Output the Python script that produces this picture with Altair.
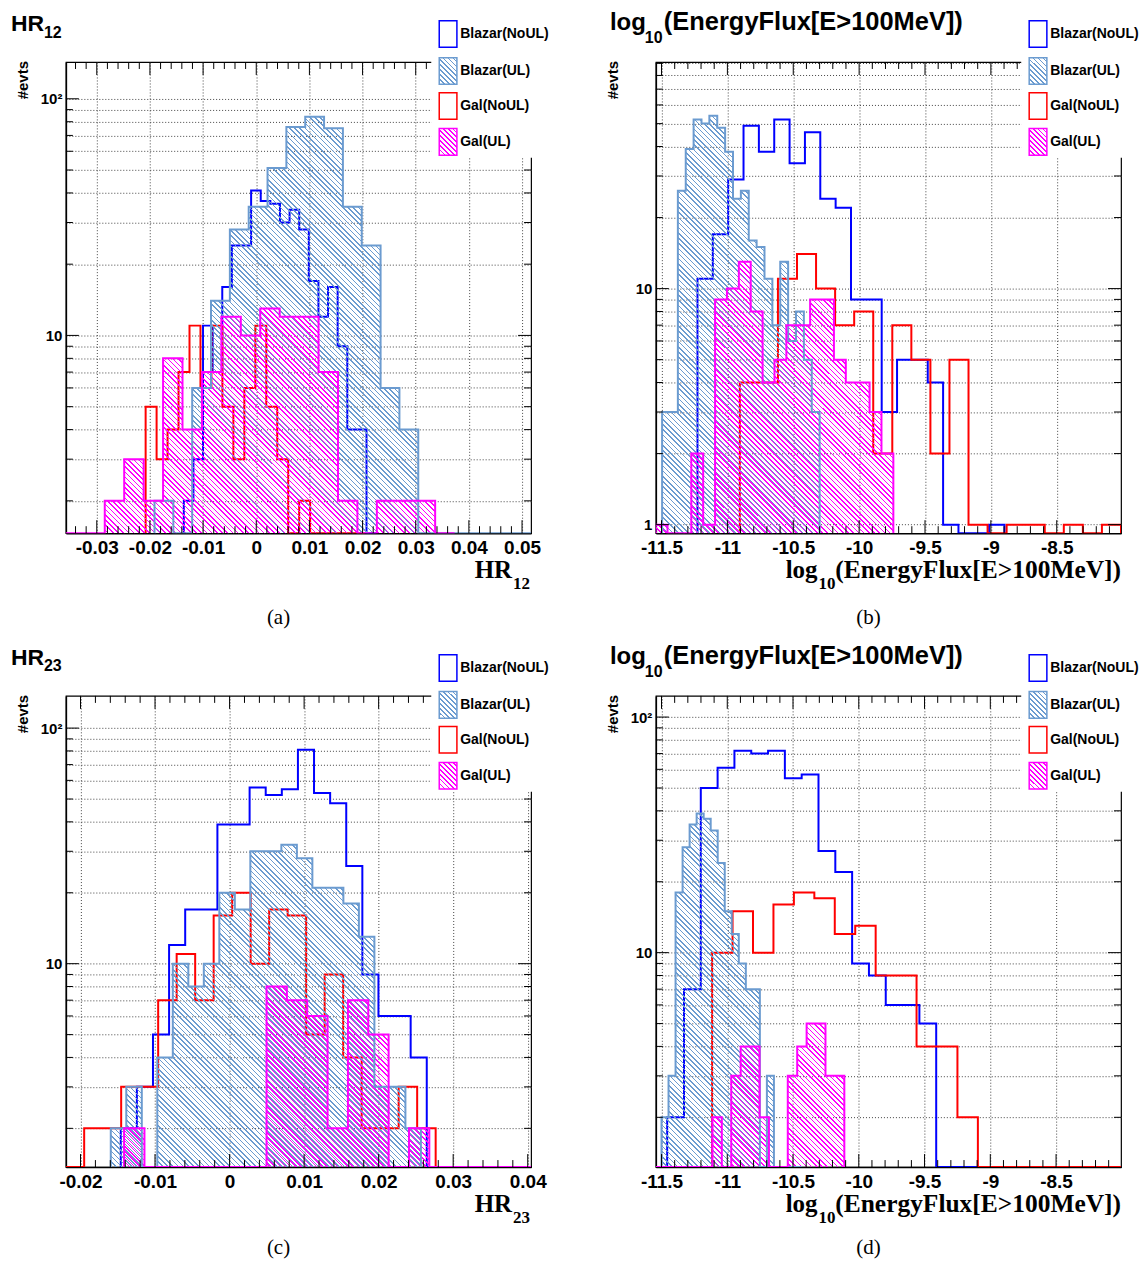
import math
import numpy as np
import pandas as pd
import altair as alt

PW, PH = 466, 472
NAMES = ["Blazar(NoUL)", "Blazar(UL)", "Gal(NoUL)", "Gal(UL)"]
COLORS = ["#0000ff", "#6b9bd0", "#ff0000", "#ff00ff"]
SANS = "Liberation Sans"
SERIF = "Liberation Serif"

# ---------------- panel (a): HR12 ----------------
A_XDOM = [-0.03581, 0.05170]
A_YDOM = [1.46, 143.0]
A_LO = [-0.01363, -0.01914, -0.02081, -0.03581]
A_WIDTH = [0.001809, 0.003544, 0.002063, 0.003656]
A_BLAZAR_NOUL = [2, 3, 11, 7, 16, 24, 24, 41, 37, 36, 30, 34, 28, 17, 12, 16, 9, 4, 4, 1]
A_BLAZAR_UL = [2, 0, 6, 14, 28, 35, 51, 76, 84, 75, 35, 24, 6, 4, 0, 0, 0, 0, 0, 1]
A_GAL_NOUL = [5, 3, 4, 7, 11, 6, 11, 5, 3, 6, 11, 5, 3, 0, 2, 0, 0, 0, 0, 1]
A_GAL_UL = [1, 0, 2, 3, 2, 8, 4, 7, 12, 10, 13, 12, 12, 7, 2, 0, 2, 2, 2, 1]
A_XTICKS = [-0.03, -0.02, -0.01, 0.0, 0.01, 0.02, 0.03, 0.04, 0.05]

# ---------------- panel (b): log10 energy flux ----------------
B_XDOM = [-11.543, -8.012]
B_YDOM = [0.92, 91.2]
B_LO = [-11.2271, -11.4955, -10.9056, -11.5447]
B_WIDTH = [0.11653, 0.05978, 0.14466, 0.09022]
B_BLAZAR_NOUL = [11, 17, 29, 49, 38, 52, 34, 46, 24, 22, 9, 9, 3, 5, 5, 4, 1, 0, 0, 1]
B_BLAZAR_UL = [3, 3, 26, 39, 52, 50, 54, 48, 38, 24, 26, 16, 15, 11, 7, 13, 6, 8, 5, 3]
B_GAL_NOUL = [4, 4, 11, 14, 10, 7, 8, 2, 7, 5, 2, 5, 1, 0, 1, 1, 0, 1, 0, 1]
B_GAL_UL = [1, 0, 0, 2, 1, 9, 10, 13, 8, 4, 5, 7, 7, 9, 9, 5, 4, 4, 3, 2]
B_XTICKS = [-11.5, -11.0, -10.5, -10.0, -9.5, -9.0, -8.5]

# ---------------- panel (c): HR23 ----------------
C_XDOM = [-0.02196, 0.04045]
C_YDOM = [1.37, 137.0]
C_LO = [-0.014598, -0.015938, -0.021991, -0.014152]
C_WIDTH = [0.0021607, 0.0020804, 0.002482, 0.00273]
C_BLAZAR_NOUL = [2, 3, 5, 12, 17, 17, 39, 39, 56, 52, 55, 81, 53, 48, 26, 9, 6, 6, 4, 1]
C_BLAZAR_UL = [2, 3, 0, 4, 10, 8, 10, 20, 17, 30, 30, 32, 28, 21, 21, 18, 13, 3, 3, 2]
C_GAL_NOUL = [1, 2, 2, 3, 3, 7, 11, 7, 16, 20, 10, 17, 16, 5, 9, 4, 2, 2, 3, 2]
C_GAL_UL = [2, 0, 0, 0, 0, 0, 0, 8, 7, 6, 2, 7, 5, 0, 2, 0, 0, 0, 0, 1]
C_XTICKS = [-0.02, -0.01, 0.0, 0.01, 0.02, 0.03, 0.04]

# ---------------- panel (d): log10 energy flux ----------------
D_XDOM = [-11.543, -8.006]
D_YDOM = [1.23, 123.0]
D_LO = [-11.4570, -11.5, -11.1152, -11.5430]
D_WIDTH = [0.12785, 0.05342, 0.15544, 0.07165]
D_BLAZAR_NOUL = [2, 7, 50, 61, 72, 70, 72, 55, 57, 27, 22, 9, 8, 6, 6, 5, 0, 0, 0, 1]
D_BLAZAR_UL = [2, 3, 18, 28, 35, 39, 37, 33, 24, 15, 12, 9, 7, 7, 0, 3, 0, 0, 0, 1]
D_GAL_NOUL = [10, 15, 10, 16, 18, 17, 12, 13, 8, 8, 4, 4, 2, 0, 0, 0, 0, 0, 0, 1]
D_GAL_UL = [1, 0, 0, 0, 0, 0, 2, 0, 3, 4, 4, 2, 0, 0, 3, 4, 5, 5, 3, 3]

LOG_TICKS = [1, 2, 3, 4, 5, 6, 7, 8, 9, 10, 20, 30, 40, 50, 60, 70, 80, 90, 100]

ONE = pd.DataFrame({"o": [0]})


def hatch(color, wpx, hpx, spacing=5.2, lw=1.1):
    wpx = max(wpx, 1.0)
    hpx = max(hpx, 1.0)
    k = (wpx + hpx) / (wpx ** 2 + hpx ** 2)
    n = max(2, int(round((wpx + hpx) / spacing)))
    frac = min(0.9, lw * math.sqrt(2) / spacing)
    clear = "rgba(255,255,255,0)"
    stops = []
    for i in range(n):
        a, b, c = i / n, (i + frac) / n, (i + 1) / n
        stops += [
            {"offset": round(a, 6), "color": color},
            {"offset": round(b, 6), "color": color},
            {"offset": round(b, 6), "color": clear},
            {"offset": round(c, 6), "color": clear},
        ]
    return {"gradient": "linear", "x1": 0, "y1": 1,
            "x2": round(k * wpx, 6), "y2": round(1 - k * hpx, 6), "stops": stops}


def txt(s, x, y, size, font=SANS, weight="bold", align="left", baseline="top", angle=None):
    """Text mark; for baseline 'top', y is the baseline position (converted to top)."""
    if baseline == "top":
        y = y - round(0.79 * size)
    kw = dict(text=s, font=font, fontSize=size, fontWeight=weight, align=align,
              baseline=baseline, color="black")
    if angle is not None:
        kw["angle"] = angle
    return alt.Chart(ONE).mark_text(**kw).encode(x=alt.value(x), y=alt.value(y))


def panel(xdom, ydom, lows, widths, counts, xticks, xminor, title, xtitle, caption, cap_y, anchor=False):
    xs = alt.Scale(domain=xdom, nice=False, zero=False)
    ys = alt.Scale(type="log", domain=ydom, nice=False, clamp=True)
    yall = [v for v in LOG_TICKS if ydom[0] < v < ydom[1]]
    ymaj = [v for v in yall if v in (1, 10, 100)]
    ymin = [v for v in yall if v not in (1, 10, 100)]
    xaxis = alt.Axis(values=xticks, grid=True, gridColor="#444", gridDash=[1, 2], gridWidth=1,
                     ticks=False, domain=True, domainColor="black", domainWidth=1.5,
                     labelFont=SANS, labelFontWeight="bold", labelFontSize=19, labelColor="black",
                     labelPadding=5, labelFlush=False, labelOverlap=False,
                     labelExpr="replace(format(datum.value, ''), '\u2212', '-')", title=None)
    yaxis = alt.Axis(values=yall, grid=True, gridColor="#444", gridDash=[1, 2], gridWidth=1,
                     ticks=False, domain=True, domainColor="black", domainWidth=1.5,
                     labelFont=SANS, labelFontWeight="bold", labelFontSize=15, labelColor="black",
                     labelPadding=4, labelOverlap=False,
                     labelExpr="datum.value == 100 ? '10\u00b2' : datum.value == 10 ? '10' : datum.value == 1 ? '1' : ''",
                     title=None)

    def X(f):
        return alt.X(f, type="quantitative", scale=xs, axis=xaxis)

    def Y(f):
        return alt.Y(f, type="quantitative", scale=ys, axis=yaxis)

    span = xdom[1] - xdom[0]
    lspan = math.log10(ydom[1]) - math.log10(ydom[0])

    def outline(i):
        lo, w, c = lows[i], widths[i], counts[i]
        n = len(c)
        hi = lo + n * w
        xsv = [lo] + [lo + j * w for j in range(n)] + [hi, hi]
        cs = [0] + list(c) + [c[-1], 0]
        df = pd.DataFrame({"x": xsv, "count": cs, "k": list(range(len(xsv)))})
        return (alt.Chart(df).transform_calculate(yv="max(datum.count, 0.01)")
                .mark_line(color=COLORS[i], strokeWidth=2, interpolate="step-after", clip=True)
                .encode(x=X("x"), y=Y("yv"), order=alt.Order("k:Q")))

    def area(i):
        lo, w, c = lows[i], widths[i], counts[i]
        n = len(c)
        hi = lo + n * w
        xsv = [lo + j * w for j in range(n)] + [hi]
        cs = list(c) + [c[-1]]
        df = pd.DataFrame({"x": xsv, "count": cs})
        x0, x1 = max(lo, xdom[0]), min(hi, xdom[1])
        wpx = (x1 - x0) / span * PW
        hpx = PH * (math.log10(max(c)) - math.log10(ydom[0])) / lspan
        grad = hatch(COLORS[i], wpx, hpx)
        return (alt.Chart(df).transform_calculate(yv="max(datum.count, 0.01)")
                .mark_area(fill=grad, opacity=1, interpolate="step-after", clip=True)
                .encode(x=X("x"), y=Y("yv")))

    layers = [outline(0), outline(2), area(1), area(3), outline(1), outline(3)]

    # inner ticks (ROOT style)
    mn = [round(v, 6) for v in np.arange(math.ceil(xdom[0] / xminor) * xminor, xdom[1], xminor)]
    mn = [v for v in mn if all(abs(v - t) > xminor / 10 for t in xticks) and xdom[0] < v < xdom[1]]
    xt_maj = pd.DataFrame({"v": xticks})
    xt_min = pd.DataFrame({"v": mn})
    yt_maj = pd.DataFrame({"v": ymaj})
    yt_min = pd.DataFrame({"v": ymin})
    rule = dict(color="black", strokeWidth=1)
    for dfv, L in ((xt_maj, 13), (xt_min, 7)):
        layers.append(alt.Chart(dfv).mark_rule(**rule).encode(x=X("v"), y=alt.value(PH), y2=alt.value(PH - L)))
        layers.append(alt.Chart(dfv).mark_rule(**rule).encode(x=X("v"), y=alt.value(0), y2=alt.value(L)))
    for dfv, L in ((yt_maj, 13), (yt_min, 7)):
        if len(dfv):
            layers.append(alt.Chart(dfv).mark_rule(**rule).encode(y=Y("v"), x=alt.value(0), x2=alt.value(L)))
            layers.append(alt.Chart(dfv).mark_rule(**rule).encode(y=Y("v"), x=alt.value(PW), x2=alt.value(PW - L)))

    # legend
    layers.append(alt.Chart(ONE).mark_rect(color="white").encode(
        x=alt.value(366), x2=alt.value(482), y=alt.value(-50), y2=alt.value(96)))
    centers = [-28, 9, 44, 80]
    for i, name in enumerate(NAMES):
        cy = centers[i]
        fill = hatch(COLORS[i], 17.7, 26.7, spacing=5.0) if i in (1, 3) else "white"
        layers.append(alt.Chart(ONE).mark_rect(fill=fill, stroke=COLORS[i], strokeWidth=1.5).encode(
            x=alt.value(374), x2=alt.value(391.7), y=alt.value(cy - 13.3), y2=alt.value(cy + 13.3)))
        layers.append(txt(name, 395, cy, 14, baseline="middle"))

    # titles
    for (s, x, y, size) in title:
        layers.append(txt(s, x, y, size))
    for (s, x, y, size, align) in xtitle:
        layers.append(txt(s, x, y, size, font=SERIF, align=align))
    layers.append(txt("#evts", -43, -1, 15, align="right", baseline="middle", angle=270))
    layers.append(txt(caption, 213, cap_y, 21, font=SERIF, weight="normal", align="center", baseline="middle"))
    if anchor:
        layers.append(alt.Chart(ONE).mark_rect(opacity=0).encode(
            x=alt.value(-57), x2=alt.value(-56), y=alt.value(-52), y2=alt.value(-51)))
    return alt.layer(*layers).properties(width=PW, height=PH)


# (text, x, baseline y, font size)
TITLE_HR12 = [("HR", -55, -31, 23), ("12", -22, -24.5, 16)]
TITLE_HR23 = [("HR", -55, -31, 23), ("23", -22, -24.5, 16)]
TITLE_FLUX = [("log", -46, -32, 24), ("10", -11, -19, 16), ("(EnergyFlux[E>100MeV])", 8, -32, 25.5)]
XT_HR12 = [("HR", 447, 517, 25, "right"), ("12", 448, 528, 17, "left")]
XT_HR23 = [("HR", 447, 517, 25, "right"), ("23", 448, 528, 17, "left")]
XT_FLUX = [("log", 162, 517, 25, "right"), ("10", 163, 528, 17, "left"),
           ("(EnergyFlux[E>100MeV])", 466, 517, 25.5, "right")]

pa = panel(A_XDOM, A_YDOM, A_LO, A_WIDTH, [A_BLAZAR_NOUL, A_BLAZAR_UL, A_GAL_NOUL, A_GAL_UL],
           A_XTICKS, 0.002, TITLE_HR12, XT_HR12, "(a)", 557, anchor=True)
pb = panel(B_XDOM, B_YDOM, B_LO, B_WIDTH, [B_BLAZAR_NOUL, B_BLAZAR_UL, B_GAL_NOUL, B_GAL_UL],
           B_XTICKS, 0.1, TITLE_FLUX, XT_FLUX, "(b)", 557)
pc = panel(C_XDOM, C_YDOM, C_LO, C_WIDTH, [C_BLAZAR_NOUL, C_BLAZAR_UL, C_GAL_NOUL, C_GAL_UL],
           C_XTICKS, 0.002, TITLE_HR23, XT_HR23, "(c)", 553)
pd_ = panel(D_XDOM, D_YDOM, D_LO, D_WIDTH, [D_BLAZAR_NOUL, D_BLAZAR_UL, D_GAL_NOUL, D_GAL_UL],
            B_XTICKS, 0.1, TITLE_FLUX, XT_FLUX, "(d)", 553)

chart = alt.concat(pa, pb, pc, pd_, columns=2, spacing={"row": 163, "column": 125},
                   bounds="flush", padding=0).configure_view(stroke="black", strokeWidth=1.2)

chart.save("out.html", embed_options={"renderer": "svg", "actions": False})
